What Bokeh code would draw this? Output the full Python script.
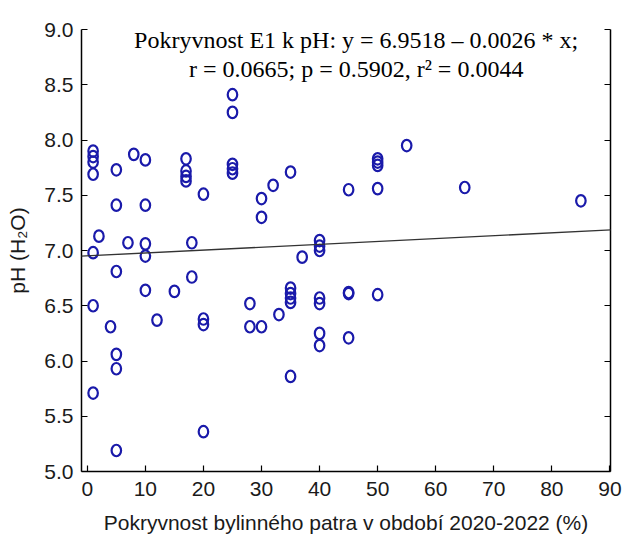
from bokeh.plotting import figure
from bokeh.models import (Range1d, LinearAxis, FixedTicker, Slope, Label, NumeralTickFormatter,
                          ColumnDataSource, CustomLabelingPolicy)
from bokeh.embed import file_html
from bokeh.resources import INLINE

# ---- data ----
cover = [1, 1, 1, 1, 1, 1, 1,
         2,
         4,
         5, 5, 5, 5, 5, 5,
         7,
         8,
         10, 10, 10, 10, 10,
         12,
         15,
         17, 17, 17, 17,
         18, 18,
         20, 20, 20, 20,
         25, 25, 25, 25, 25,
         28, 28,
         30, 30, 30,
         32,
         33,
         35, 35, 35, 35, 35, 35,
         37,
         40, 40, 40, 40, 40, 40, 40,
         45, 45, 45, 45,
         50, 50, 50, 50, 50,
         55,
         65,
         85]
ph = [7.90, 7.85, 7.80, 7.69, 6.98, 6.50, 5.71,
      7.13,
      6.31,
      7.73, 7.41, 6.81, 6.06, 5.93, 5.19,
      7.07,
      7.87,
      7.82, 7.41, 7.06, 6.95, 6.64,
      6.37,
      6.63,
      7.83, 7.72, 7.67, 7.63,
      7.07, 6.76,
      7.51, 6.38, 6.33, 5.36,
      8.41, 8.25, 7.78, 7.74, 7.70,
      6.52, 6.31,
      7.47, 7.30, 6.31,
      7.59,
      6.42,
      7.71, 6.66, 6.61, 6.57, 6.53, 5.86,
      6.94,
      7.09, 7.04, 7.00, 6.57, 6.52, 6.25, 6.14,
      7.55, 6.62, 6.61, 6.21,
      7.83, 7.80, 7.77, 7.56, 6.60,
      7.95,
      7.57,
      7.45]

intercept = 6.9518
slope = 0.0026

x_ticks = [0, 10, 20, 30, 40, 50, 60, 70, 80, 90]
y_ticks = [5.0, 5.5, 6.0, 6.5, 7.0, 7.5, 8.0, 8.5, 9.0]

title_line1 = "Pokryvnost E1 k pH: y = 6.9518 \u2013 0.0026 * x;"
title_line2 = "r = 0.0665; p = 0.5902, r\u00b2 = 0.0044"
x_title = "Pokryvnost bylinného patra v období 2020-2022 (%)"
y_title = "pH (H\u2082O)"

# ---- figure ----
p = figure(width=626, height=543, output_backend="svg", toolbar_location=None,
           x_range=Range1d(-1, 90.1), y_range=Range1d(5, 9),
           min_border_left=81, min_border_right=16, min_border_top=29, min_border_bottom=72)
p.outline_line_color = None
p.xgrid.visible = False
p.ygrid.visible = False
p.background_fill_color = "white"
p.border_fill_color = "white"

sans = "Liberation Sans"
serif = "Liberation Serif"

def style_axis(ax):
    ax.axis_line_color = "black"
    ax.axis_line_width = 1.5
    ax.major_tick_in = 6
    ax.major_tick_out = 0
    ax.minor_tick_in = 3
    ax.minor_tick_out = 0
    ax.major_tick_line_color = "black"
    ax.major_tick_line_width = 1.2
    ax.minor_tick_line_color = "#666666"
    ax.minor_tick_line_width = 1
    ax.major_label_text_font = sans
    ax.major_label_text_font_size = "21px"
    ax.major_label_text_color = "#1a1a1a"
    ax.axis_label_text_font = sans
    ax.axis_label_text_font_size = "21px"
    ax.axis_label_text_font_style = "normal"
    ax.axis_label_text_color = "#1a1a1a"

p.xaxis.ticker = FixedTicker(ticks=x_ticks, num_minor_ticks=5)
p.yaxis.ticker = FixedTicker(ticks=y_ticks, num_minor_ticks=5)
p.yaxis.formatter = NumeralTickFormatter(format="0.0")
style_axis(p.xaxis[0])
style_axis(p.yaxis[0])
p.xaxis.major_label_standoff = 10
p.xaxis.axis_label = x_title
p.xaxis.axis_label_standoff = 12
p.yaxis.major_label_standoff = 8
p.yaxis.axis_label = y_title
p.yaxis.axis_label_standoff = 12

# right axis: ticks only, no labels
hide_all = CustomLabelingPolicy(code="""
    const n = indices.size
    for (let i = 0; i < n; i++) { indices.unset(i) }
    return indices
""")
right = LinearAxis(ticker=FixedTicker(ticks=y_ticks, num_minor_ticks=5), major_label_policy=hide_all)
style_axis(right)
right.major_label_text_font_size = "1px"
right.major_label_standoff = 0
p.add_layout(right, "right")

# regression line
p.add_layout(Slope(gradient=slope, y_intercept=intercept, line_color="#333333", line_width=1.4))

# points
src = ColumnDataSource(dict(x=cover, y=ph))
p.ellipse(x="x", y="y", width=9.5, height=11.5, width_units="screen", height_units="screen",
          source=src, fill_color=None, line_color="#1a1aaa", line_width=2.2)

# title text inside plot
tx = 46.3
p.add_layout(Label(x=tx, y=8.905, text=title_line1, text_align="center", text_baseline="alphabetic",
                   text_font=serif, text_font_size="24px", text_color="black"))
p.add_layout(Label(x=tx, y=8.647, text=title_line2, text_align="center", text_baseline="alphabetic",
                   text_font=serif, text_font_size="24px", text_color="black"))

open("out.html", "w").write(file_html(p, INLINE))
